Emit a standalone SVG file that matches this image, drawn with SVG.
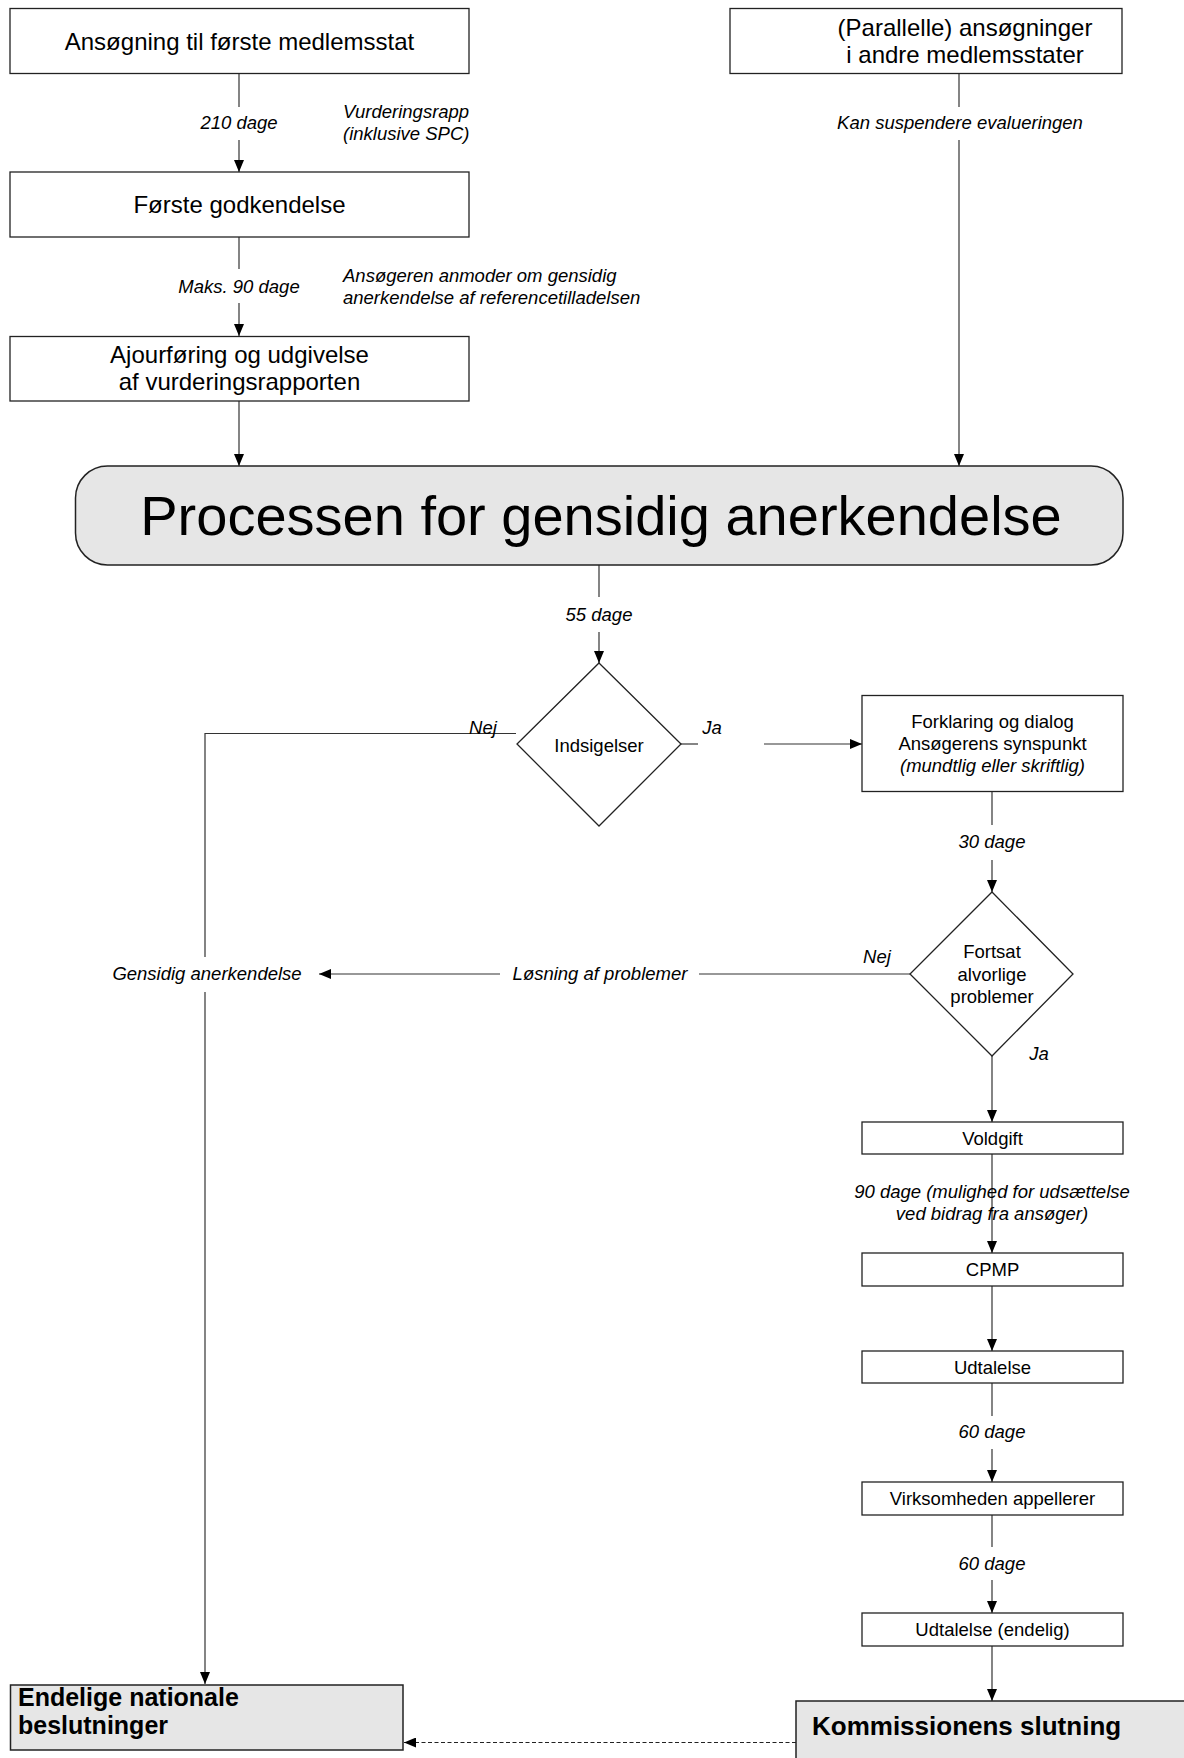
<svg xmlns="http://www.w3.org/2000/svg" width="1184" height="1758" viewBox="0 0 1184 1758">
<defs>
<marker id="arr" markerUnits="userSpaceOnUse" markerWidth="12" markerHeight="10" refX="12" refY="5" orient="auto">
<path d="M0,0 L12,5 L0,10 z" fill="#000"/>
</marker>
<style>
.box{fill:#fff;stroke:#222;stroke-width:1.3}
.gbox{fill:#e6e6e6;stroke:#222;stroke-width:1.5}
.ln{fill:none;stroke:#333;stroke-width:1.2}
.dash{fill:none;stroke:#222;stroke-width:1.2;stroke-dasharray:4 2.5}
text{font-family:"Liberation Sans",Arial,Helvetica,sans-serif;fill:#000}
.t24{font-size:24px;text-anchor:middle}
.t18{font-size:18.5px;text-anchor:middle}
.i18{font-size:18.5px;font-style:italic;text-anchor:middle}
.i18s{font-size:18.5px;font-style:italic}
.b26{font-size:26px;font-weight:bold}
.b25{font-size:25px;font-weight:bold}
.big{font-size:56px;text-anchor:middle}
</style>
</defs>
<rect width="1184" height="1758" fill="#fff"/>

<g id="connectors">
<line class="ln" x1="239" y1="73" x2="239" y2="107"/>
<line class="ln" x1="239" y1="140" x2="239" y2="172" marker-end="url(#arr)"/>
<line class="ln" x1="239" y1="237" x2="239" y2="269"/>
<line class="ln" x1="239" y1="303" x2="239" y2="336" marker-end="url(#arr)"/>
<line class="ln" x1="239" y1="401" x2="239" y2="466" marker-end="url(#arr)"/>
<line class="ln" x1="959" y1="73" x2="959" y2="107"/>
<line class="ln" x1="959" y1="140" x2="959" y2="466" marker-end="url(#arr)"/>
<line class="ln" x1="599" y1="565" x2="599" y2="597"/>
<line class="ln" x1="599" y1="632" x2="599" y2="663" marker-end="url(#arr)"/>
<polyline class="ln" points="516,733.5 205,733.5 205,957"/>
<line class="ln" x1="205" y1="992" x2="205" y2="1684" marker-end="url(#arr)"/>
<line class="ln" x1="681" y1="744" x2="698" y2="744"/>
<line class="ln" x1="764" y1="744" x2="862" y2="744" marker-end="url(#arr)"/>
<line class="ln" x1="992" y1="792" x2="992" y2="825"/>
<line class="ln" x1="992" y1="860" x2="992" y2="892" marker-end="url(#arr)"/>
<line class="ln" x1="910" y1="974" x2="699" y2="974"/>
<line class="ln" x1="500" y1="974" x2="319" y2="974" marker-end="url(#arr)"/>
<line class="ln" x1="992" y1="1056" x2="992" y2="1122" marker-end="url(#arr)"/>
<line class="ln" x1="992" y1="1154" x2="992" y2="1253" marker-end="url(#arr)"/>
<line class="ln" x1="992" y1="1286" x2="992" y2="1351" marker-end="url(#arr)"/>
<line class="ln" x1="992" y1="1383" x2="992" y2="1416"/>
<line class="ln" x1="992" y1="1449" x2="992" y2="1482" marker-end="url(#arr)"/>
<line class="ln" x1="992" y1="1515" x2="992" y2="1547"/>
<line class="ln" x1="992" y1="1580" x2="992" y2="1613" marker-end="url(#arr)"/>
<line class="ln" x1="992" y1="1646" x2="992" y2="1701" marker-end="url(#arr)"/>
<line class="dash" x1="796" y1="1742.5" x2="404" y2="1742.5" marker-end="url(#arr)"/>
<text class="i18" x="239" y="129">210 dage</text>
<text class="i18s" x="343" y="118">Vurderingsrapp</text>
<text class="i18s" x="343" y="140">(inklusive SPC)</text>
<text class="i18" x="239" y="293">Maks. 90 dage</text>
<text class="i18s" x="343" y="282">Ansøgeren anmoder om gensidig</text>
<text class="i18s" x="343" y="304">anerkendelse af referencetilladelsen</text>
<text class="i18" x="960" y="129">Kan suspendere evalueringen</text>
<text class="i18" x="599" y="621">55 dage</text>
<text class="i18" x="483" y="734">Nej</text>
<text class="i18" x="712" y="734">Ja</text>
<text class="i18" x="992" y="848">30 dage</text>
<text class="i18" x="877" y="963">Nej</text>
<text class="i18" x="600" y="980">Løsning af problemer</text>
<text class="i18" x="207" y="980">Gensidig anerkendelse</text>
<text class="i18" x="1039" y="1060">Ja</text>
<text class="i18" x="992" y="1198">90 dage (mulighed for udsættelse</text>
<text class="i18" x="992" y="1220">ved bidrag fra ansøger)</text>
<text class="i18" x="992" y="1438">60 dage</text>
<text class="i18" x="992" y="1570">60 dage</text>
</g>

<g id="n-ansoegning">
<rect class="box" x="10" y="8.5" width="459" height="65"/>
<text class="t24" x="239.5" y="50">Ansøgning til første medlemsstat</text>
</g>
<g id="n-parallelle">
<rect class="box" x="730" y="8.5" width="392" height="65"/>
<text class="t24" x="965" y="36">(Parallelle) ansøgninger</text>
<text class="t24" x="965" y="63">i andre medlemsstater</text>
</g>
<g id="n-foerste">
<rect class="box" x="10" y="172" width="459" height="65"/>
<text class="t24" x="239.5" y="213">Første godkendelse</text>
</g>
<g id="n-ajour">
<rect class="box" x="10" y="336.5" width="459" height="64.5"/>
<text class="t24" x="239.5" y="363">Ajourføring og udgivelse</text>
<text class="t24" x="239.5" y="390">af vurderingsrapporten</text>
</g>
<g id="n-processen">
<rect class="gbox" x="75.5" y="466" width="1047.5" height="99" rx="32" ry="32"/>
<text class="big" x="601" y="535">Processen for gensidig anerkendelse</text>
</g>
<g id="n-indsigelser">
<polygon class="box" points="599,663 681,744 599,826 517,744"/>
<text class="t18" x="599" y="752">Indsigelser</text>
</g>
<g id="n-forklaring">
<rect class="box" x="862" y="695.5" width="261" height="96"/>
<text class="t18" x="992.5" y="728">Forklaring og dialog</text>
<text class="t18" x="992.5" y="750">Ansøgerens synspunkt</text>
<text class="i18" x="992.5" y="772">(mundtlig eller skriftlig)</text>
</g>
<g id="n-fortsat">
<polygon class="box" points="992,892 1073,974 992,1056 910,974"/>
<text class="t18" x="992" y="958">Fortsat</text>
<text class="t18" x="992" y="980.5">alvorlige</text>
<text class="t18" x="992" y="1002.5">problemer</text>
</g>
<g id="n-voldgift">
<rect class="box" x="862" y="1122" width="261" height="32"/>
<text class="t18" x="992.5" y="1144.5">Voldgift</text>
</g>
<g id="n-cpmp">
<rect class="box" x="862" y="1253" width="261" height="33"/>
<text class="t18" x="992.5" y="1276">CPMP</text>
</g>
<g id="n-udtalelse">
<rect class="box" x="862" y="1351" width="261" height="32"/>
<text class="t18" x="992.5" y="1373.5">Udtalelse</text>
</g>
<g id="n-virksomheden">
<rect class="box" x="862" y="1482" width="261" height="33"/>
<text class="t18" x="992.5" y="1505">Virksomheden appellerer</text>
</g>
<g id="n-udtalelse-endelig">
<rect class="box" x="862" y="1613" width="261" height="33"/>
<text class="t18" x="992.5" y="1636">Udtalelse (endelig)</text>
</g>
<g id="n-endelige">
<rect class="gbox" x="10.5" y="1685" width="392.5" height="65"/>
<text class="b25" x="18" y="1706">Endelige nationale</text>
<text class="b25" x="18" y="1734">beslutninger</text>
</g>
<g id="n-kommissionens">
<rect class="gbox" x="796" y="1701" width="400" height="70"/>
<text class="b26" x="812" y="1735">Kommissionens slutning</text>
</g>
</svg>
